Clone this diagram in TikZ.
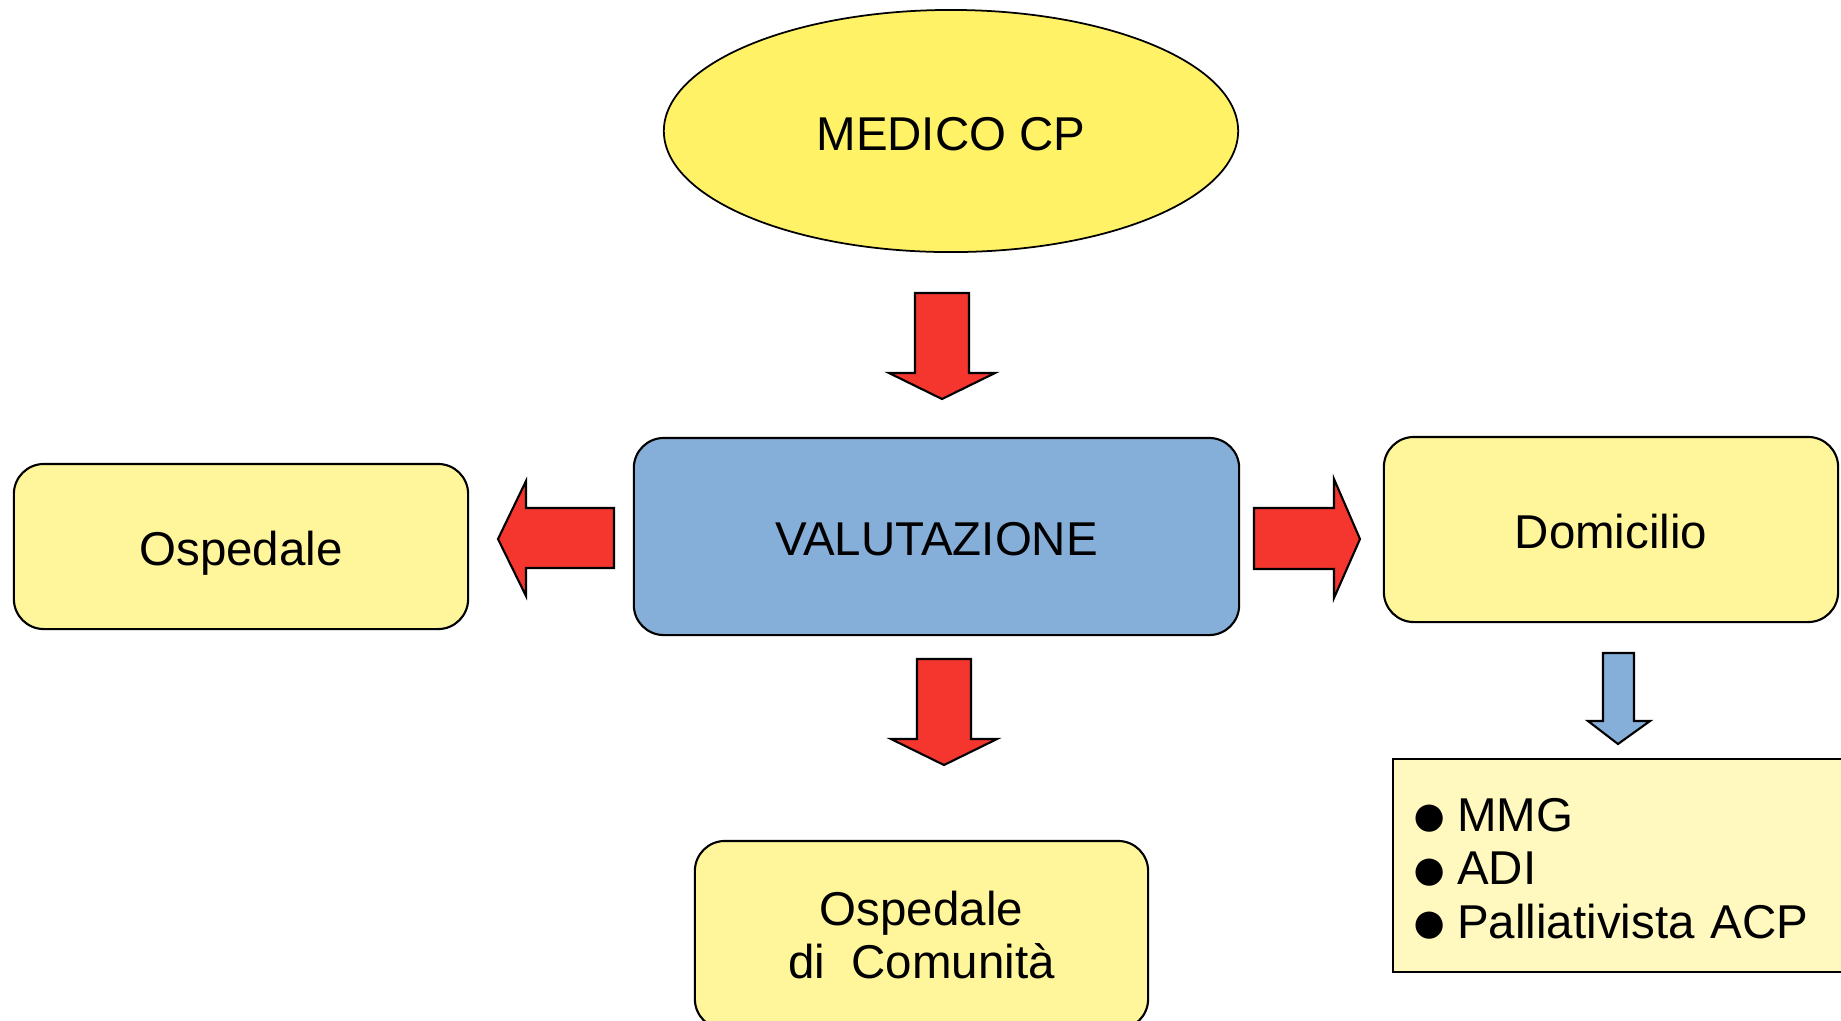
\documentclass[tikz,border=0pt]{standalone}
\usepackage{fontspec}
\setmainfont{Liberation Sans}
\usepackage{xcolor}
\usepackage{tikz}
\usetikzlibrary{shapes.geometric}
\definecolor{cpyellow}{HTML}{FFF266}
\definecolor{boxyellow}{HTML}{FFF59B}
\definecolor{listyellow}{HTML}{FFF9C0}
\definecolor{evalblue}{HTML}{85AFD8}
\definecolor{arrowred}{HTML}{F4362F}
\newcommand{\boxfont}{\fontsize{13.5}{14.9}\selectfont}
\newcommand{\itemdot}{\smash{\raisebox{-1.6pt}{\fontsize{18}{14.9}\selectfont ●}}\hspace{0.09cm}}
\tikzstyle{doctor}     = [ellipse, minimum width=5.74cm, minimum height=2.42cm, inner sep=0pt, text height=0.38cm, text depth=0cm, draw=black, line width=0.5pt, fill=cpyellow, font=\boxfont]
\tikzstyle{place}      = [rectangle, rounded corners=0.3cm, minimum width=4.54cm, align=center, draw=black, line width=0.6pt, fill=boxyellow, font=\boxfont]
\tikzstyle{oneline}    = [text height=0.38cm, text depth=0cm]
\tikzstyle{assess}     = [place, oneline, minimum width=6.05cm, minimum height=1.97cm, fill=evalblue]
\tikzstyle{services}   = [rectangle, align=left, draw=black, line width=0.6pt, fill=listyellow, font=\fontsize{13.5}{15.2}\selectfont]
\tikzstyle{bigarrow}   = [draw=black, line width=0.6pt, fill=arrowred]
\tikzstyle{smallarrow} = [bigarrow, fill=evalblue]

\begin{document}
\begin{tikzpicture}[x=0.01cm, y=-0.01cm]
    \useasboundingbox [fill=white] (0,0) rectangle (1841,1020);

    \node (medico)      [doctor] at (951,131)    {MEDICO CP};
    \node (valutazione) [assess] at (936.5,536.5) {VALUTAZIONE};
    \node (ospedale)    [place, oneline, minimum height=1.65cm] at (241,546.5) {Ospedale};
    \node (domicilio)   [place, oneline, minimum height=1.85cm] at (1611,529.5) {Domicilio};
    \node (comunita)    [place, minimum width=4.53cm, minimum height=1.88cm] at (921.5,935) {Ospedale\\di\ \ Comunità};
    \node (servizi)     [services, anchor=north west, text width=4.5cm, inner xsep=0.17cm, minimum height=2.13cm] at (1392,758)
        {\rule{0pt}{11pt}\itemdot MMG\\\itemdot ADI\\\itemdot Palliativista ACP};

    % block arrows
    \draw [bigarrow] (915,293) -- (969,293) -- (969,373) -- (995,373) -- (942,399) -- (889,373) -- (915,373) -- cycle;
    \draw [bigarrow] (917,659) -- (971,659) -- (971,739) -- (997,739) -- (944,765) -- (891,739) -- (917,739) -- cycle;
    \draw [bigarrow] (614,508) -- (614,568) -- (526,568) -- (526,596) -- (498,539) -- (526,481) -- (526,508) -- cycle;
    \draw [bigarrow] (1254,508) -- (1334,508) -- (1334,479) -- (1360,539) -- (1334,598) -- (1334,569) -- (1254,569) -- cycle;
    \draw [smallarrow] (1603,653) -- (1634,653) -- (1634,721) -- (1650,721) -- (1618,744) -- (1588,721) -- (1603,721) -- cycle;

  \end{tikzpicture}
\end{document}
